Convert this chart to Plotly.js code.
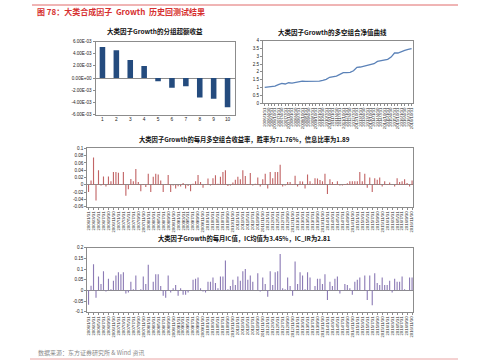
<!DOCTYPE html>
<html>
<head>
<meta charset="utf-8">
<script src="https://cdn.plot.ly/plotly-3.0.1.min.js"></script>
<style>html,body{margin:0;padding:0;background:#fff;}#chart{width:499px;height:364px;}</style>
</head>
<body>
<div id="chart"></div>
<script>
// ---------- data ----------
const groups = ['1','2','3','4','5','6','7','8','9','10'];
const groupExcess = [0.0051, 0.00455, 0.00295, 0.00198, -0.00054, -0.0016, -0.00134, -0.0032, -0.0034, -0.0048];
const groupTickVals = [0.006, 0.004, 0.002, 0, -0.002, -0.004, -0.006];
const groupTickText = ['6.00E-03','4.00E-03','2.00E-03','0.00E+00','-2.00E-03','-4.00E-03','-6.00E-03'];

const months = [
'2006/1/31','2006/2/28','2006/3/31','2006/4/30','2006/5/31','2006/6/30','2006/7/31','2006/8/31','2006/9/30','2006/10/31','2006/11/30','2006/12/31',
'2007/1/31','2007/2/28','2007/3/31','2007/4/30','2007/5/31','2007/6/30','2007/7/31','2007/8/31','2007/9/30','2007/10/31','2007/11/30','2007/12/31',
'2008/1/31','2008/2/29','2008/3/31','2008/4/30','2008/5/31','2008/6/30','2008/7/31','2008/8/31','2008/9/30','2008/10/31','2008/11/30','2008/12/31',
'2009/1/31','2009/2/28','2009/3/31','2009/4/30','2009/5/31','2009/6/30','2009/7/31','2009/8/31','2009/9/30','2009/10/31','2009/11/30','2009/12/31',
'2010/1/31','2010/2/28','2010/3/31','2010/4/30','2010/5/31','2010/6/30','2010/7/31','2010/8/31','2010/9/30','2010/10/31','2010/11/30','2010/12/31',
'2011/1/31','2011/2/28','2011/3/31','2011/4/30','2011/5/31','2011/6/30','2011/7/31','2011/8/31','2011/9/30','2011/10/31','2011/11/30','2011/12/31',
'2012/1/31','2012/2/29','2012/3/31','2012/4/30','2012/5/31','2012/6/30','2012/7/31','2012/8/31','2012/9/30','2012/10/31','2012/11/30','2012/12/31',
'2013/1/31','2013/2/28','2013/3/31','2013/4/30','2013/5/31','2013/6/30','2013/7/31','2013/8/31','2013/9/30','2013/10/31','2013/11/30','2013/12/31',
'2014/1/31','2014/2/28','2014/3/31','2014/4/30','2014/5/31','2014/6/30','2014/7/31','2014/8/31','2014/9/30','2014/10/31','2014/11/30','2014/12/31',
'2015/1/31','2015/2/28','2015/3/31','2015/4/30','2015/5/31','2015/6/30','2015/7/31','2015/8/31','2015/9/30','2015/10/31','2015/11/30','2015/12/31',
'2016/1/31','2016/2/29','2016/3/31','2016/4/30','2016/5/31','2016/6/30','2016/7/31','2016/8/31','2016/9/30','2016/10/31','2016/11/30'
];

const monthlyReturn = [
-0.02, 0.012, 0.075, -0.043, 0.04, -0.002, 0.023, -0.005, 0.023, 0.01,
0.035, 0.035, 0.033, 0.002, 0.035, -0.03, -0.012, 0.016, 0.01, 0.043,
0.008, -0.018, 0.002, -0.006, 0.03, -0.02, 0.022, 0.03, 0.028, 0.012,
-0.02, 0.002, 0.027, -0.02, -0.002, -0.01, -0.004, -0.005, 0.005, -0.01,
-0.003, -0.018, 0.003, 0.01, 0.027, 0.008, -0.008, 0.002, 0.017, -0.002,
0.018, 0.026, 0.003, 0.022, 0.035, 0.04, -0.003, -0.002, 0.006, 0.014,
0.022, 0.015, 0.04, 0.024, 0.002, 0.032, -0.002, 0.003, 0.02,
-0.005, 0.015, 0.03, -0.01, 0.035, 0.018, 0.035, 0.035, 0.055, -0.005,
-0.002, 0.008, 0.008, 0.002, 0.025, -0.005, 0.01, 0.009, -0.01, 0.028,
0.01, 0.003, 0.018, 0.017, 0.013, 0.01, 0.03, -0.025, 0.015, 0.008,
0.002, 0.01, -0.002, -0.002, 0.002, 0.004, 0.01, 0.01, 0.01, 0.01,
0.035, 0.01, 0.03, -0.008, 0.02, -0.02, 0.018, 0.014, 0.02, -0.005,
0.01, 0.002, 0.006, 0.001, -0.005, 0.018, 0.008, 0.01, 0.015, 0.005,
-0.005, 0.012
];

const monthlyIC = [
-0.068, 0.022, 0.122, -0.035, 0.065, 0.03, 0.09, -0.005, 0.055, 0.005,
0.045, 0.07, 0.085, 0.075, 0.085, -0.015, -0.01, 0.04, 0.005, 0.07,
0.002, 0.005, 0.065, 0.03, 0.12, 0.002, 0.04, 0.075, 0.075, 0.02,
-0.025, -0.035, 0.07, -0.01, 0.01, 0.025, -0.025, 0.01, -0.02, -0.02,
-0.01, 0.002, 0.05, 0.055, 0.06, 0.01, -0.005, -0.01, 0.04, 0.04,
0.06, 0.035, 0.01, 0.065, 0.065, 0.14, 0.005, 0.02, 0.05, 0.025,
0.065, 0.045, 0.09, 0.1, 0.05, 0.07, 0.04, 0.002, 0.08,
-0.005, 0.06, 0.03, -0.03, 0.09, 0.025, 0.085, 0.09, 0.17, 0.01,
0.005, 0.06, 0.02, -0.025, 0.135, 0.03, 0.085, 0.07, 0.005, 0.085,
0.06, 0.002, 0.02, 0.055, 0.055, 0.03, 0.075, -0.045, 0.04, 0.02,
0.055, 0.065, -0.015, 0.002, 0.03, 0.025, 0.01, -0.02, 0.04, 0.05,
0.06, 0.002, 0.07, -0.045, 0.07, -0.07, 0.08, 0.035, 0.025, 0.06,
0.025, 0.025, 0.045, -0.01, 0.055, 0.04, 0.04, 0.065, 0.005, 0.002,
0.06, 0.06
];

// quarterly net value of the long-short portfolio
const lineDates = months.filter((d, i) => i % 3 === 0);
const netValue = [
1.00, 1.03, 1.07, 1.09, 1.18, 1.26, 1.22, 1.30, 1.28, 1.33,
1.37, 1.41, 1.39, 1.39, 1.37, 1.39, 1.41, 1.45, 1.52, 1.65,
1.67, 1.73, 1.84, 1.95, 1.95, 1.97, 2.07, 2.29, 2.31, 2.37,
2.42, 2.46, 2.52, 2.67, 2.72, 2.78, 2.80, 2.95, 3.21, 3.21,
3.32, 3.38, 3.44, 3.49
];
const netTickVals = [0, 0.5, 1, 1.5, 2, 2.5, 3, 3.5, 4];
const retTickVals = [0.1, 0.08, 0.06, 0.04, 0.02, 0, -0.02, -0.04, -0.06];
const retTickText = ['0.1','0.08','0.06','0.04','0.02','0','-0.02','-0.04','-0.06'];
const icTickVals = [0.2, 0.15, 0.1, 0.05, 0, -0.05, -0.1];
const icTickText = ['0.2','0.15','0.1','0.05','0','-0.05','-0.1'];

const mainTitle = '图 78：大类合成因子  Growth  历史回测试结果';
const title1 = '大类因子Growth的分组超额收益';
const title2 = '大类因子Growth的多空组合净值曲线';
const title3 = '大类因子Growth的每月多空组合收益率，胜率为71.76%，信息比率为1.89';
const title4 = '大类因子Growth的每月IC值，IC均值为3.45%，IC_IR为2.81';
const sourceText = '数据来源：东方证券研究所 & Wind 资讯';

// ---------- layout helpers ----------
const W = 499, H = 364;
const px = x => x / W;
const py = y => 1 - y / H;
const tickFont = {family: 'Liberation Sans, Arial, sans-serif', size: 4.3, color: '#222'};
const yFont = {family: 'Liberation Sans, Arial, sans-serif', size: 4.6, color: '#222'};
const cjk = 'Noto Sans CJK SC, sans-serif';
const axisBase = {
  showline: true, linecolor: '#8c8c8c', linewidth: 1, mirror: true,
  showgrid: false, zeroline: false, tickfont: tickFont,
  ticks: 'outside', ticklen: 2, tickcolor: '#8c8c8c', fixedrange: true
};

const traces = [
  {type: 'bar', x: groups, y: groupExcess, xaxis: 'x', yaxis: 'y',
   marker: {color: '#244b7e'}, width: 0.4, hoverinfo: 'none'},
  {type: 'scatter', mode: 'lines', x: lineDates, y: netValue, xaxis: 'x2', yaxis: 'y2',
   line: {color: '#5b82b8', width: 1.3}, hoverinfo: 'none'},
  {type: 'bar', x: months, y: monthlyReturn, xaxis: 'x3', yaxis: 'y3',
   marker: {color: '#c26566'}, width: 0.45, hoverinfo: 'none'},
  {type: 'bar', x: months, y: monthlyIC, xaxis: 'x4', yaxis: 'y4',
   marker: {color: '#8c7bb5'}, width: 0.45, hoverinfo: 'none'}
];

const monthTicks = months.filter((d, i) => i % 2 === 0);

const layout = {
  width: W, height: H, autosize: false,
  margin: {l: 0, r: 0, t: 0, b: 0},
  paper_bgcolor: '#fff', plot_bgcolor: '#fff',
  showlegend: false,
  xaxis: Object.assign({}, axisBase, {domain: [px(95.5), px(234.5)], anchor: 'y', type: 'category',
    range: [-0.5, 9.5], ticks: '', tickfont: Object.assign({}, yFont, {size: 4.8})}),
  yaxis: Object.assign({}, axisBase, {domain: [py(114.5), py(41.5)], anchor: 'x', tickfont: yFont,
    range: [-0.006, 0.006], tickmode: 'array', tickvals: groupTickVals, ticktext: groupTickText,
    zeroline: true, zerolinecolor: '#8c8c8c', zerolinewidth: 1}),
  xaxis2: Object.assign({}, axisBase, {domain: [px(263), px(413.3)], anchor: 'y2', type: 'category',
    range: [-0.5, lineDates.length - 0.5], tickangle: -90, tickmode: 'array', tickvals: lineDates, ticktext: lineDates}),
  yaxis2: Object.assign({}, axisBase, {domain: [py(103), py(40.7)], anchor: 'x2', tickfont: yFont,
    range: [0, 4], tickmode: 'array', tickvals: netTickVals}),
  xaxis3: Object.assign({}, axisBase, {domain: [px(87.3), px(413.3)], anchor: 'y3', type: 'category',
    range: [-0.5, months.length - 0.5], tickangle: -90, tickmode: 'array', tickvals: monthTicks, ticktext: monthTicks}),
  yaxis3: Object.assign({}, axisBase, {domain: [py(206.7), py(148.3)], anchor: 'x3', tickfont: yFont,
    range: [-0.06, 0.1], tickmode: 'array', tickvals: retTickVals, ticktext: retTickText,
    zeroline: true, zerolinecolor: '#8c8c8c', zerolinewidth: 1}),
  xaxis4: Object.assign({}, axisBase, {domain: [px(87.3), px(413.3)], anchor: 'y4', type: 'category',
    range: [-0.5, months.length - 0.5], tickangle: -90, tickmode: 'array', tickvals: monthTicks, ticktext: monthTicks}),
  yaxis4: Object.assign({}, axisBase, {domain: [py(311.7), py(247.7)], anchor: 'x4', tickfont: yFont,
    range: [-0.1, 0.2], tickmode: 'array', tickvals: icTickVals, ticktext: icTickText,
    zeroline: true, zerolinecolor: '#8c8c8c', zerolinewidth: 1}),
  shapes: [
    {type: 'line', xref: 'paper', yref: 'paper', x0: px(32), x1: px(458), y0: py(5), y1: py(5),
     line: {color: '#e06a6a', width: 1}},
    {type: 'line', xref: 'paper', yref: 'paper', x0: px(30), x1: px(458), y0: py(359), y1: py(359),
     line: {color: '#eaa3a3', width: 1}}
  ],
  annotations: [
    {text: '<b>' + mainTitle + '</b>', xref: 'paper', yref: 'paper', x: px(35), y: py(12),
     xanchor: 'left', yanchor: 'middle', showarrow: false, font: {family: cjk, size: 8, color: '#d62f2f'}},
    {text: '<b>' + title1 + '</b>', xref: 'paper', yref: 'paper', x: px(155), y: py(31),
     xanchor: 'center', yanchor: 'middle', showarrow: false, font: {family: cjk, size: 6.5, color: '#111'}},
    {text: '<b>' + title2 + '</b>', xref: 'paper', yref: 'paper', x: px(332), y: py(31.5),
     xanchor: 'center', yanchor: 'middle', showarrow: false, font: {family: cjk, size: 6.5, color: '#111'}},
    {text: '<b>' + title3 + '</b>', xref: 'paper', yref: 'paper', x: px(244), y: py(139),
     xanchor: 'center', yanchor: 'middle', showarrow: false, font: {family: cjk, size: 6.3, color: '#111'}},
    {text: '<b>' + title4 + '</b>', xref: 'paper', yref: 'paper', x: px(244), y: py(238.5),
     xanchor: 'center', yanchor: 'middle', showarrow: false, font: {family: cjk, size: 6.3, color: '#111'}},
    {text: sourceText, xref: 'paper', yref: 'paper', x: px(36), y: py(352),
     xanchor: 'left', yanchor: 'middle', showarrow: false, font: {family: cjk, size: 6, color: '#8a8a8a'}}
  ]
};

Plotly.newPlot('chart', traces, layout, {staticPlot: true, displayModeBar: false});
</script>
</body>
</html>
